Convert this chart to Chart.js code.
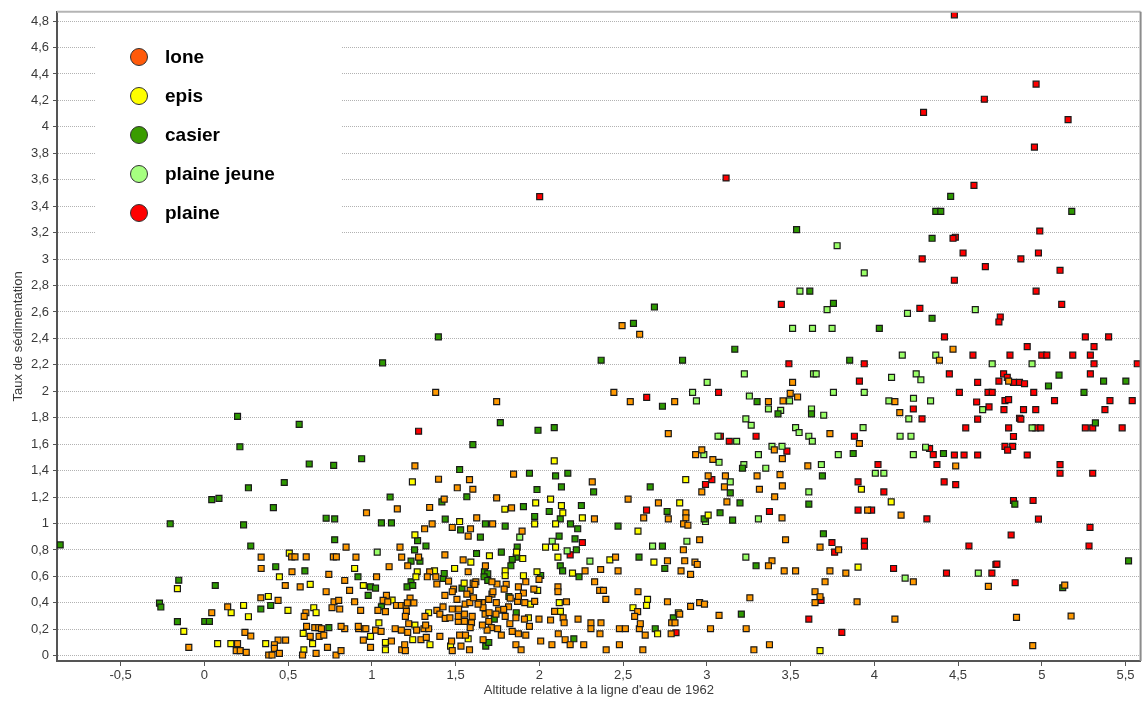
<!DOCTYPE html>
<html>
<head>
<meta charset="utf-8">
<script src="https://cdn.jsdelivr.net/npm/chart.js@4.4.1/dist/chart.umd.min.js"></script>
<style>
  html, body { margin: 0; padding: 0; background: #fff; }
  #wrap { width: 1146px; height: 704px; }
</style>
</head>
<body>
<div id="wrap"><canvas id="scatter" width="1146" height="704"></canvas></div>
<script>
// Tick labels
const xTicks = [-0.5, 0, 0.5, 1, 1.5, 2, 2.5, 3, 3.5, 4, 4.5, 5, 5.5];
const yTicks = [0, 0.2, 0.4, 0.6, 0.8, 1, 1.2, 1.4, 1.6, 1.8, 2, 2.2, 2.4, 2.6, 2.8, 3, 3.2, 3.4, 3.6, 3.8, 4, 4.2, 4.4, 4.6, 4.8];

// Categories
const categories = ["lone", "epis", "casier", "plaine jeune", "plaine"];

// Series values [altitude, taux]
const lone = [
  [0.339,0.746],[0.339,0.660],[0.521,0.748],[0.541,0.748],[0.608,0.748],[0.770,0.748],[0.788,0.748],[0.905,0.746],[0.846,0.821],[0.523,0.635],
  [0.483,0.531],[0.572,0.521],[0.743,0.615],[0.838,0.569],[0.727,0.484],[0.867,0.494],[0.968,1.081],[1.152,1.111],[1.257,1.436],[1.398,1.335],
  [1.345,1.121],[1.360,0.997],[1.315,0.960],[1.432,1.184],[1.436,0.763],[1.168,0.821],[1.178,0.746],[1.103,0.673],[1.214,0.680],[1.279,0.746],
  [1.028,0.597],[1.345,0.635],[1.331,0.597],[1.382,0.597],[1.388,0.542],[1.436,0.456],[0.337,0.438],[0.440,0.418],[0.139,0.370],[0.044,0.325],
  [0.606,0.325],[0.596,0.297],[0.774,0.408],[0.802,0.418],[0.762,0.363],[0.808,0.353],[0.897,0.408],[0.933,0.343],[1.036,0.343],[1.087,0.456],
  [1.067,0.418],[1.095,0.408],[1.081,0.333],[1.147,0.380],[1.176,0.380],[1.204,0.380],[1.228,0.436],[1.251,0.400],[1.212,0.400],[1.206,0.335],
  [1.200,0.297],[1.220,0.242],[1.267,0.194],[1.311,0.204],[1.339,0.204],[1.321,0.232],[1.388,0.343],[1.406,0.315],[1.438,0.282],[1.317,0.297],
  [1.214,0.176],[1.176,0.194],[1.139,0.204],[1.117,0.111],[1.178,0.045],[1.196,0.083],[1.200,0.038],[1.293,0.121],[1.325,0.139],[1.406,0.146],
  [1.022,0.194],[1.055,0.184],[0.954,0.204],[0.921,0.204],[0.919,0.222],[0.964,0.204],[0.949,0.118],[0.992,0.063],[0.838,0.204],[0.816,0.222],
  [0.659,0.212],[0.683,0.212],[0.699,0.204],[0.610,0.222],[0.632,0.146],[0.685,0.146],[0.713,0.156],[0.485,0.118],[0.440,0.118],[0.418,0.083],
  [0.418,0.055],[0.448,0.018],[0.384,0.005],[0.404,0.005],[0.586,0.005],[0.667,0.018],[0.735,0.063],[0.786,0.005],[0.816,0.038],[0.242,0.176],
  [0.277,0.149],[0.198,0.091],[0.190,0.038],[0.214,0.038],[0.250,0.025],[-0.093,0.063],
  [1.745,1.922],[2.543,1.922],[2.808,1.922],[2.770,1.680],[2.933,1.521],[1.583,1.332],[1.846,1.373],[1.603,1.259],[1.510,1.270],[2.316,1.315],
  [1.745,1.194],[1.834,1.118],[2.530,1.184],[2.711,1.156],[1.626,1.043],[1.721,0.997],[2.329,1.035],[2.623,1.043],[2.770,1.035],[2.875,1.081],
  [2.875,1.043],[2.861,0.997],[2.887,0.987],[1.589,0.960],[1.480,0.970],[1.575,0.904],[1.897,0.942],[2.860,0.801],[2.868,0.718],[2.929,0.708],
  [2.765,0.718],[2.846,0.642],[2.903,0.615],[2.455,0.746],[2.366,0.652],[2.470,0.642],[2.273,0.642],[2.330,0.559],[1.545,0.725],[1.575,0.635],
  [1.678,0.680],[1.605,0.549],[1.621,0.559],[1.747,0.542],[1.802,0.539],[1.875,0.521],[1.919,0.559],[1.998,0.577],[1.967,0.504],[1.905,0.474],
  [2.111,0.521],[2.111,0.484],[2.360,0.494],[2.383,0.494],[2.397,0.426],[2.589,0.484],[2.765,0.408],[2.903,0.373],[2.587,0.333],[2.569,0.297],
  [2.162,0.408],[2.091,0.335],[2.067,0.270],[2.142,0.287],[2.148,0.249],[2.231,0.277],[2.308,0.249],[2.368,0.249],[2.308,0.204],[2.362,0.166],
  [2.478,0.204],[2.514,0.204],[2.597,0.204],[2.603,0.242],[2.632,0.156],[2.790,0.249],[2.810,0.249],[2.838,0.315],[2.787,0.166],[2.113,0.166],
  [2.154,0.121],[2.184,0.083],[2.075,0.083],[2.265,0.083],[2.399,0.045],[2.478,0.083],[2.618,0.045],[2.008,0.111],[1.919,0.156],[1.875,0.166],
  [1.838,0.184],[1.860,0.083],[1.891,0.045],[1.998,0.277],[1.911,0.277],[1.941,0.222],[1.824,0.242],[1.860,0.287],[1.796,0.297],[1.816,0.370],
  [1.870,0.411],[1.913,0.401],[1.972,0.411],[1.826,0.436],[1.875,0.448],[1.743,0.401],[1.717,0.466],[1.723,0.484],[1.790,0.504],[1.757,0.345],
  [1.741,0.315],[1.787,0.350],[1.698,0.426],[1.660,0.401],[1.638,0.401],[1.664,0.363],[1.676,0.315],[1.700,0.325],[1.698,0.259],[1.751,0.204],
  [1.713,0.212],[1.688,0.194],[1.660,0.232],[1.664,0.121],[1.773,0.156],[1.599,0.297],[1.595,0.249],[1.587,0.212],[1.553,0.259],[1.516,0.259],
  [1.516,0.297],[1.553,0.315],[1.518,0.353],[1.557,0.390],[1.585,0.401],[1.607,0.438],[1.634,0.390],[1.587,0.494],[1.567,0.466],[1.508,0.426],
  [1.425,0.370],[1.480,0.353],[1.466,0.287],[1.524,0.156],[1.476,0.111],[1.559,0.156],[1.532,0.073],[1.583,0.045],[1.480,0.038],[1.488,0.504],
  [1.480,0.484],[1.458,0.564],[1.615,0.539],[1.717,0.559],
  [3.368,1.922],[3.455,1.927],[4.123,1.922],[4.152,1.839],[3.735,1.680],[3.911,1.605],[2.970,1.557],[3.403,1.557],[3.036,1.484],[3.451,1.491],
  [3.603,1.436],[3.008,1.360],[3.111,1.360],[3.300,1.360],[3.437,1.370],[3.105,1.277],[3.314,1.259],[3.451,1.285],[2.970,1.239],[3.405,1.202],
  [3.120,1.164],[3.960,1.101],[4.160,1.063],[3.449,1.043],[2.957,0.877],[3.470,0.877],[3.676,0.821],[3.787,0.801],[2.943,0.690],[3.389,0.718],
  [3.368,0.680],[3.462,0.642],[3.530,0.642],[3.735,0.642],[3.830,0.625],[3.706,0.559],[4.233,0.559],[3.646,0.484],[3.676,0.446],[3.646,0.401],
  [3.897,0.408],[3.257,0.438],[2.957,0.401],[2.986,0.390],[3.073,0.305],[3.022,0.204],[3.235,0.204],[4.123,0.277],[3.281,0.045],[3.374,0.083],
  [1.381,1.992],[2.445,1.992],[2.494,2.496],[2.599,2.431],
  [4.470,2.318],[4.389,2.235],[3.512,2.067],[4.802,2.077],[3.498,1.984],[3.542,1.957],[4.486,1.435],
  [4.681,0.524],[5.137,0.534],[4.849,0.290],[5.175,0.300],[4.946,0.076]
];

const epis = [
  [0.507,0.776],[1.242,1.315],[0.448,0.597],[0.632,0.539],[0.382,0.448],[0.234,0.380],[0.263,0.295],[0.160,0.325],[0.079,0.091],[0.158,0.091],
  [0.366,0.091],[0.499,0.343],[0.653,0.363],[0.667,0.325],[0.590,0.169],[0.646,0.091],[0.594,0.045],[0.897,0.660],[0.949,0.531],[0.992,0.146],
  [1.042,0.249],[1.081,0.100],[1.081,0.045],[1.244,0.121],[1.257,0.914],[1.271,0.635],[1.263,0.597],[1.374,0.642],[1.339,0.325],[1.347,0.083],
  [1.257,0.232],[1.121,0.421],[-0.161,0.507],[-0.123,0.184],
  [2.089,1.474],[2.874,1.332],[2.838,1.156],[1.794,1.108],[1.978,1.156],[2.067,1.184],[2.132,1.136],[2.140,1.081],[2.257,1.043],[1.524,1.015],
  [1.972,0.997],[2.097,0.997],[2.037,0.821],[2.097,0.821],[2.111,0.746],[2.421,0.725],[2.589,0.942],[2.684,0.708],[1.901,0.735],[1.864,0.783],
  [1.702,0.756],[1.591,0.708],[1.494,0.660],[1.796,0.642],[1.796,0.605],[1.905,0.605],[1.986,0.635],[2.198,0.625],[1.551,0.549],[1.990,0.494],
  [2.119,0.401],[2.126,0.335],[1.935,0.287],[1.947,0.390],[2.559,0.363],[2.646,0.426],[2.640,0.380],[2.706,0.166],[2.830,0.325],[1.575,0.128],
  [1.470,0.073],
  [3.923,1.259],[4.101,1.164],[3.008,1.063],[3.903,0.670],[3.676,0.038]
];

const casier = [
  [-0.861,0.838],[-0.204,0.998],[-0.268,0.398],[-0.260,0.368],[-0.153,0.571],[-0.161,0.258],
  [0.198,1.810],[0.566,1.750],[0.212,1.580],[0.626,1.450],[0.772,1.440],[0.939,1.490],[0.477,1.310],[0.263,1.270],[0.044,1.180],[0.087,1.190],
  [0.412,1.120],[1.109,1.200],[0.234,0.990],[0.727,1.040],[0.778,1.035],[0.277,0.830],[0.778,0.877],[1.057,1.005],[1.117,1.005],[1.323,0.830],
  [1.273,0.870],[1.418,1.164],[1.438,1.033],[1.255,0.800],[1.287,0.715],[1.234,0.715],[0.426,0.673],[0.600,0.642],[0.065,0.531],[0.917,0.597],
  [0.992,0.521],[1.022,0.511],[0.978,0.456],[1.234,0.559],[1.210,0.521],[1.244,0.531],[1.426,0.584],[1.432,0.622],[0.337,0.353],[0.396,0.380],
  [0.002,0.259],[0.030,0.259],[0.743,0.212],[1.057,0.370],
  [1.767,1.763],[1.992,1.705],[2.089,1.725],[1.603,1.597],[1.524,1.408],[1.941,1.380],[2.097,1.360],[2.170,1.380],[2.132,1.277],[1.986,1.257],
  [2.324,1.239],[2.662,1.277],[1.567,1.202],[1.905,1.128],[2.251,1.136],[2.059,1.091],[1.972,1.053],[2.125,1.035],[2.763,1.091],[1.678,0.997],
  [1.796,0.980],[2.186,0.997],[2.229,0.960],[2.470,0.980],[1.530,0.952],[1.648,0.897],[2.213,0.884],[2.118,0.904],[2.735,0.829],[1.868,0.821],
  [1.773,0.783],[2.221,0.801],[2.595,0.746],[1.862,0.746],[1.838,0.728],[1.830,0.680],[2.749,0.660],[1.625,0.773],[2.125,0.680],[2.139,0.642],
  [2.237,0.597],[2.008,0.607],[1.672,0.635],[1.692,0.620],[1.670,0.597],[1.692,0.569],[1.538,0.511],[1.818,0.448],[1.862,0.325],[1.731,0.277],
  [1.680,0.073],[1.698,0.100],[2.206,0.128],[2.692,0.204],[2.800,0.287],[2.735,1.887],
  [3.300,1.922],[3.425,1.829],[3.625,1.829],[3.874,1.529],[4.413,1.529],[3.213,1.418],[3.690,1.360],[3.140,1.232],[3.198,1.156],[3.609,1.146],
  [3.079,1.081],[3.154,1.025],[2.984,1.035],[3.696,0.922],[3.294,0.680],[3.206,0.315],
  [2.687,2.637],[2.562,2.514],[1.397,2.411],[1.064,2.215],[2.369,2.235],[2.855,2.235],[3.167,2.318],
  [4.456,3.474],[4.367,3.361],[4.397,3.361],[5.179,3.361],[3.536,3.223],[4.345,3.157],
  [3.615,2.757],[3.756,2.665],[4.345,2.552],[4.030,2.476],[3.853,2.235],[5.103,2.122],[5.040,2.040],[5.369,2.077],[5.502,2.077],[5.252,1.992],
  [5.320,1.761],[4.839,1.146],[5.518,0.717],[5.125,0.514]
];

const plaineJeune = [
  [1.032,0.783],[2.302,0.715],[1.883,0.897],[2.077,0.866],[2.166,0.793],[2.676,0.829],[2.881,0.866],
  [3.368,1.866],[3.441,1.856],[3.625,1.866],[3.698,1.819],[3.494,1.927],[3.233,1.791],[3.265,1.743],[3.530,1.725],[3.551,1.688],[3.067,1.660],
  [3.178,1.622],[3.609,1.660],[3.630,1.622],[3.933,1.725],[4.087,1.927],[4.336,1.927],[4.206,1.791],[4.154,1.660],[4.219,1.660],[4.306,1.577],
  [4.233,1.521],[2.982,1.521],[3.073,1.463],[3.221,1.446],[3.389,1.584],[3.449,1.584],[3.308,1.521],[3.352,1.418],[3.785,1.521],[3.684,1.446],
  [4.006,1.380],[4.057,1.380],[3.140,1.315],[3.609,1.239],[2.992,1.015],[3.308,1.035],[3.233,0.746],[4.184,0.587],
  [3.224,2.132],[3.002,2.067],[2.915,1.992],[3.254,1.964],[2.938,1.927],
  [3.778,3.101],[3.940,2.895],[3.556,2.757],[3.718,2.617],[4.198,2.589],[4.603,2.617],[3.512,2.476],[3.631,2.476],[3.748,2.476],[4.167,2.273],
  [4.367,2.273],[4.704,2.208],[4.942,2.208],[3.637,2.132],[3.653,2.132],[4.103,2.105],[4.250,2.132],[4.278,2.087],[3.756,1.992],[3.940,1.992],
  [4.234,1.947],[4.647,1.861],[4.942,1.723],[4.621,0.625]
];

const plaine = [
  [1.279,1.698],[2.640,1.101],[2.257,0.856],[2.184,0.763],[2.816,0.174],
  [3.081,1.660],[3.134,1.622],[3.294,1.660],[3.478,1.547],[3.881,1.660],[4.285,1.791],[4.233,1.866],[4.330,1.567],[4.352,1.521],[4.374,1.446],
  [4.417,1.315],[4.022,1.446],[2.992,1.295],[3.030,1.332],[3.903,1.315],[4.057,1.239],[3.374,1.091],[3.903,1.101],[3.984,1.101],[4.314,1.035],
  [3.747,0.856],[3.941,0.866],[3.941,0.829],[3.763,0.783],[4.115,0.660],[4.431,0.625],[3.682,0.418],[3.609,0.277],[3.806,0.176],
  [3.070,1.992],[2.641,1.954],[2.002,3.472],[3.115,3.613],
  [4.478,4.847],[4.966,4.323],[4.657,4.209],[4.294,4.109],[5.157,4.054],[4.956,3.847],[4.595,3.557],[4.988,3.212],[4.484,3.165],[4.470,3.157],
  [4.530,3.046],[4.980,3.046],[4.286,3.001],[4.875,3.001],[4.663,2.943],[5.109,2.915],[4.478,2.840],[4.966,2.757],[3.445,2.657],[4.272,2.627],
  [5.119,2.657],[4.752,2.562],[4.744,2.524],[4.419,2.411],[5.260,2.411],[5.399,2.411],[4.913,2.338],[5.312,2.338],[4.589,2.273],[4.810,2.273],
  [5.000,2.273],[5.030,2.273],[5.185,2.273],[5.290,2.273],[3.490,2.208],[3.940,2.208],[5.312,2.208],[5.570,2.208],[4.448,2.132],[5.290,2.132],
  [3.911,2.077],[4.617,2.067],[4.744,2.077],[4.772,2.132],[4.794,2.105],[4.831,2.067],[4.867,2.067],[4.897,2.057],[4.508,1.992],[4.679,1.992],
  [4.704,1.992],[4.952,1.992],[4.611,1.919],[4.780,1.929],[4.802,1.937],[5.076,1.929],[5.407,1.929],[5.540,1.929],[4.685,1.882],[4.774,1.861],
  [4.891,1.861],[4.964,1.861],[5.377,1.861],[4.617,1.789],[4.867,1.796],[4.875,1.789],[4.546,1.723],[4.802,1.723],[4.964,1.723],[4.994,1.723],
  [5.260,1.723],[5.304,1.723],[5.480,1.723],[4.831,1.658],[4.780,1.583],[4.826,1.583],[4.796,1.555],[4.913,1.518],[4.617,1.518],[4.536,1.518],
  [4.478,1.518],[5.109,1.445],[5.109,1.380],[5.304,1.380],[4.486,1.294],[4.831,1.174],[4.948,1.174],[4.980,1.033],[5.288,0.971],[4.817,0.913],
  [5.282,0.830],[4.565,0.830],[4.726,0.690],[4.702,0.625],[4.732,0.693],[4.841,0.552]
];

// Colours: square markers, and the (slightly different) legend dots
const pointColors = ["#FF9900", "#FFFF00", "#2E9900", "#99FF66", "#FF0000"];
const legendColors = ["#FF5A0A", "#FFFF00", "#3A9C00", "#A6FF80", "#FF0000"];

const series = [lone, epis, casier, plaineJeune, plaine];
const FONT = "'Liberation Sans', Arial, sans-serif";

function fmt(v) {
  return String(Math.round(v * 10) / 10).replace('.', ',');
}

// legend drawn inside the plot, white box over the grid
const innerLegend = {
  id: 'innerLegend',
  beforeDatasetsDraw(chart) {
    const ctx = chart.ctx;
    ctx.save();
    ctx.fillStyle = '#fff';
    ctx.fillRect(95, 35, 246, 206);
    categories.forEach((name, i) => {
      const cy = 57 + i * 39;
      ctx.beginPath();
      ctx.arc(139, cy, 8.5, 0, Math.PI * 2);
      ctx.fillStyle = legendColors[i];
      ctx.fill();
      ctx.lineWidth = 1;
      ctx.strokeStyle = '#333';
      ctx.stroke();
      ctx.fillStyle = '#000';
      ctx.font = "bold 19px " + FONT;
      ctx.textBaseline = 'middle';
      ctx.textAlign = 'left';
      ctx.fillText(name, 165, cy + 1);
    });
    ctx.restore();
  },
  afterDraw(chart) {
    const { ctx, chartArea } = chart;
    ctx.save();
    ctx.strokeStyle = '#b4b4b4';
    ctx.lineWidth = 2;
    ctx.beginPath();
    ctx.moveTo(chartArea.left, chartArea.top);
    ctx.lineTo(chartArea.right, chartArea.top);
    ctx.stroke();
    ctx.strokeStyle = '#8c8c8c';
    ctx.lineWidth = 2;
    ctx.beginPath();
    ctx.moveTo(chartArea.right, chartArea.top);
    ctx.lineTo(chartArea.right, chartArea.bottom);
    ctx.stroke();
    ctx.restore();
  }
};

new Chart(document.getElementById('scatter'), {
  type: 'scatter',
  data: {
    datasets: series.map((s, i) => ({
      label: categories[i],
      data: s.map(p => ({ x: p[0], y: p[1] })),
      pointStyle: 'rect',
      pointRadius: 4.2,
      pointBackgroundColor: pointColors[i],
      pointBorderColor: '#1a1a1a',
      pointBorderWidth: 1.2
    }))
  },
  options: {
    responsive: false,
    animation: false,
    devicePixelRatio: 1,
    layout: { padding: { top: 11, right: 2, left: 0, bottom: 0 } },
    plugins: { legend: { display: false }, tooltip: { enabled: false } },
    scales: {
      x: {
        type: 'linear',
        min: -0.88,
        max: 5.59,
        afterBuildTicks: scale => { scale.ticks = xTicks.map(v => ({ value: v })); },
        afterFit: scale => { scale.height = 43; },
        ticks: {
          callback: v => fmt(v),
          autoSkip: false,
          maxRotation: 0,
          padding: 2,
          color: '#3a3a3a',
          font: { family: FONT, size: 13 }
        },
        grid: { drawOnChartArea: false, drawTicks: true, tickLength: 5, tickColor: '#555', tickWidth: 1 },
        border: { color: '#555', width: 2 },
        title: {
          display: true,
          text: "Altitude relative à la ligne d'eau de 1962",
          color: '#3a3a3a',
          font: { family: FONT, size: 13 },
          padding: { top: 0, bottom: 6 }
        }
      },
      y: {
        type: 'linear',
        min: -0.04,
        max: 4.87,
        afterBuildTicks: scale => { scale.ticks = yTicks.map(v => ({ value: v })); },
        afterFit: scale => { scale.width = 57; },
        ticks: {
          callback: v => fmt(v),
          autoSkip: false,
          padding: 4,
          color: '#3a3a3a',
          font: { family: FONT, size: 13 }
        },
        grid: { color: '#b2b2b2', lineWidth: 1, tickLength: 4, tickColor: '#555', tickWidth: 1, tickBorderDash: [] },
        border: { color: '#555', width: 2, dash: [1, 1] },
        title: {
          display: true,
          text: 'Taux de sédimentation',
          color: '#3a3a3a',
          font: { family: FONT, size: 13 },
          padding: { top: 11, bottom: 0 }
        }
      }
    }
  },
  plugins: [innerLegend]
});
</script>
</body>
</html>
